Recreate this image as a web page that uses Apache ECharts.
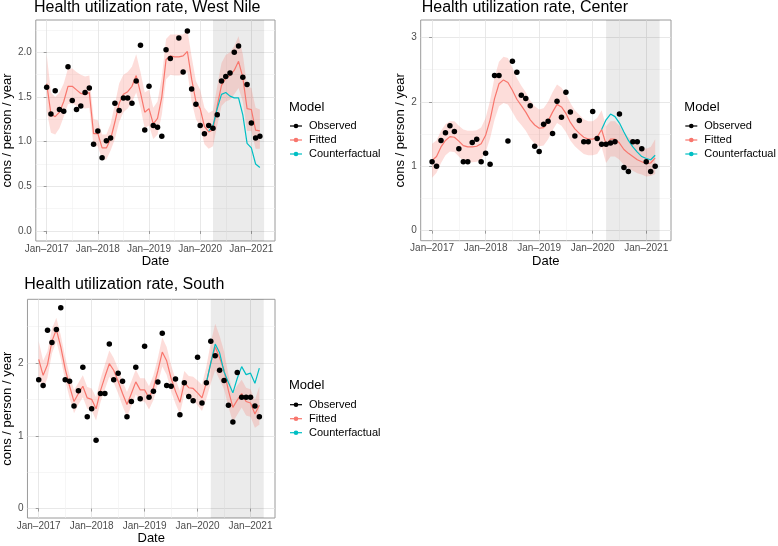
<!DOCTYPE html>
<html>
<head>
<meta charset="utf-8">
<script src="https://cdn.jsdelivr.net/npm/echarts@6/dist/echarts.min.js"></script>
<style>html,body{margin:0;padding:0;background:#fff}#chart{width:778px;height:546px}</style>
</head>
<body>
<div id="chart"></div>
<script>
// months since Jan 2017
var months = [0,1,2,3,4,5,6,7,8,9,10,11,12,13,14,15,16,17,18,19,20,21,22,23,24,25,26,27,28,29,30,31,32,33,34,35,36,37,38,39,40,41,42,43,44,45,46,47,48,49,50];
var cfMonths = [38,39,40,41,42,43,44,45,46,47,48,49,50];
var xTickMonths = [0,12,24,36,48];
var xTickLabels = ['Jan–2017','Jan–2018','Jan–2019','Jan–2020','Jan–2021'];
var xMinorMonths = [6,18,30,42];
var shadeFrom = 39, shadeTo = 51;

// West Nile
var wnObs = [1.61,1.31,1.57,1.36,1.34,1.84,1.46,1.36,1.40,1.55,1.60,0.97,1.12,0.82,1.01,1.04,1.43,1.35,1.49,1.49,1.43,1.68,2.08,1.13,1.62,1.18,1.16,1.06,2.03,1.93,null,2.16,1.78,2.24,1.59,1.42,1.18,1.09,1.18,1.15,1.30,1.68,1.73,1.77,2.00,2.07,1.72,1.64,1.21,1.04,1.06];
var wnFit = [1.65,1.31,1.28,1.33,1.45,1.62,1.62,1.58,1.54,1.53,1.55,1.09,1.09,0.93,0.93,1.03,1.22,1.43,1.53,1.56,1.62,1.74,1.55,1.33,1.37,1.20,1.26,1.50,1.92,1.96,1.95,1.95,1.96,2.01,1.70,1.45,1.37,1.17,1.11,1.13,1.40,1.63,1.71,1.74,1.80,1.90,1.72,1.37,1.36,1.13,1.12];
var wnLow = [1.35,1.10,1.08,1.15,1.28,1.42,1.43,1.40,1.38,1.37,1.38,0.95,0.95,0.80,0.80,0.90,1.03,1.22,1.33,1.37,1.44,1.55,1.38,1.15,1.18,1.03,1.08,1.30,1.70,1.75,1.74,1.74,1.75,1.78,1.45,1.25,1.17,0.97,0.92,0.95,1.18,1.40,1.45,1.47,1.53,1.60,1.45,1.12,1.12,0.92,0.92];
var wnUp = [1.98,1.55,1.50,1.55,1.65,1.82,1.82,1.78,1.75,1.73,1.74,1.25,1.24,1.08,1.08,1.20,1.42,1.65,1.75,1.78,1.84,1.98,1.78,1.55,1.58,1.38,1.45,1.72,2.15,2.20,2.20,2.20,2.20,2.25,1.95,1.68,1.58,1.38,1.32,1.35,1.62,1.88,1.97,2.00,2.07,2.18,1.98,1.62,1.60,1.38,1.36];
var wnCf = [1.12,1.18,1.37,1.53,1.55,1.51,1.49,1.49,1.30,0.98,0.93,0.75,0.71];

// Center
var cObs = [1.07,1.00,1.40,1.52,1.63,1.54,1.27,1.07,1.07,1.37,1.42,1.07,1.20,1.03,2.41,2.41,null,1.39,2.63,2.46,2.10,2.05,1.94,1.31,1.23,1.65,1.70,1.51,2.01,1.76,2.15,1.84,1.47,1.71,1.38,1.38,1.85,1.43,1.34,1.34,1.36,1.38,1.81,0.98,0.92,1.38,1.38,1.27,1.07,0.92,1.00];
var cFit = [1.09,1.15,1.30,1.40,1.46,1.45,1.39,1.32,1.30,1.30,1.31,1.35,1.48,1.72,2.05,2.28,2.34,2.30,2.18,2.04,1.94,1.84,1.72,1.64,1.59,1.60,1.70,1.84,1.96,1.92,1.82,1.68,1.58,1.51,1.45,1.42,1.42,1.45,1.57,1.34,1.42,1.42,1.36,1.26,1.20,1.15,1.10,1.07,1.04,1.05,1.13];
var cLow = [0.82,0.90,1.05,1.17,1.23,1.22,1.15,1.08,1.06,1.06,1.07,1.10,1.22,1.43,1.72,1.93,1.98,1.96,1.84,1.72,1.64,1.55,1.43,1.35,1.31,1.32,1.42,1.56,1.67,1.63,1.53,1.40,1.31,1.25,1.19,1.17,1.17,1.19,1.30,1.05,1.15,1.15,1.10,1.02,0.97,0.93,0.89,0.87,0.84,0.85,0.88];
var cUp = [1.35,1.40,1.55,1.65,1.70,1.70,1.63,1.57,1.55,1.55,1.56,1.60,1.75,2.02,2.38,2.62,2.70,2.68,2.53,2.37,2.25,2.15,2.02,1.93,1.88,1.90,2.00,2.15,2.27,2.22,2.12,1.98,1.87,1.80,1.73,1.70,1.70,1.75,1.87,1.62,1.70,1.70,1.63,1.52,1.45,1.40,1.35,1.30,1.27,1.30,1.42];
var cCf = [1.57,1.72,1.81,1.77,1.67,1.53,1.40,1.30,1.22,1.15,1.12,1.10,1.17];

// South
var sObs = [1.77,1.69,2.45,2.28,2.46,2.76,1.77,1.75,1.41,1.62,1.94,1.26,1.37,0.94,1.58,1.58,2.26,1.77,1.86,1.75,1.26,1.47,1.94,1.51,2.23,1.53,1.61,1.74,2.41,1.69,1.68,1.78,1.29,1.73,1.54,1.48,2.08,1.45,1.73,2.30,2.10,1.90,1.76,1.42,1.19,1.87,1.53,1.53,1.53,1.41,1.26];
var sFit = [2.05,1.83,1.98,2.30,2.46,2.22,1.92,1.68,1.47,1.58,1.68,1.52,1.50,1.37,1.62,1.81,1.99,1.90,1.75,1.58,1.43,1.58,1.74,1.63,1.63,1.52,1.66,1.89,2.15,2.03,1.79,1.61,1.46,1.73,1.66,1.65,1.59,1.52,1.73,2.00,2.22,2.07,1.90,1.62,1.39,1.49,1.58,1.47,1.45,1.30,1.42];
var sLow = [1.80,1.63,1.80,2.13,2.30,2.06,1.76,1.52,1.31,1.43,1.53,1.37,1.35,1.21,1.46,1.64,1.81,1.73,1.58,1.41,1.26,1.41,1.57,1.47,1.47,1.36,1.49,1.71,1.95,1.84,1.61,1.44,1.30,1.57,1.50,1.49,1.42,1.34,1.51,1.72,1.90,1.77,1.64,1.40,1.19,1.29,1.39,1.28,1.26,1.11,1.15];
var sUp = [2.30,2.03,2.16,2.47,2.62,2.38,2.08,1.84,1.63,1.73,1.83,1.67,1.65,1.53,1.78,1.98,2.17,2.07,1.92,1.75,1.60,1.75,1.91,1.79,1.79,1.68,1.83,2.07,2.35,2.22,1.97,1.78,1.62,1.89,1.82,1.81,1.76,1.70,1.95,2.28,2.54,2.37,2.16,1.84,1.59,1.69,1.77,1.66,1.64,1.49,1.68];
var sCf = [1.73,2.00,2.26,2.14,1.88,1.73,1.59,1.79,1.95,1.84,1.86,1.72,1.93];

var wnYTicks = [0,0.5,1,1.5,2], wnYLabels = ['0.0','0.5','1.0','1.5','2.0'], wnYMinor = [0.25,0.75,1.25,1.75,2.25];
var cYTicks = [0,1,2,3], cYLabels = ['0','1','2','3'], cYMinor = [0.5,1.5,2.5];
var sYTicks = [0,1,2], sYLabels = ['0','1','2'], sYMinor = [0.5,1.5,2.5];

var legendNames = ['Observed','Fitted','Counterfactual'];
var colors = {obs:'#000000', fit:'#F8766D', cf:'#00BFC4'};
var font = "'Liberation Sans', Arial, Helvetica, sans-serif";

var panels = [
  {title:'Health utilization rate, West Nile', tl:34, tt:0, left:33.3, top:20, width:241.7, height:221, ymin:-0.1125, ymax:2.3625,
   yTicks:wnYTicks, yLabels:wnYLabels, yMinor:wnYMinor, yGap:10, obs:wnObs, fit:wnFit, low:wnLow, up:wnUp, cf:wnCf, lx:289, ly:107},
  {title:'Health utilization rate, Center', tl:421.7, tt:0, left:420.7, top:20, width:250.3, height:220.7, ymin:-0.156, ymax:3.27,
   yTicks:cYTicks, yLabels:cYLabels, yMinor:cYMinor, yGap:10, obs:cObs, fit:cFit, low:cLow, up:cUp, cf:cCf, lx:684.3, ly:107},
  {title:'Health utilization rate, South', tl:24.3, tt:277, left:24.3, top:299.3, width:250.7, height:220, ymin:-0.13, ymax:2.875,
   yTicks:sYTicks, yLabels:sYLabels, yMinor:sYMinor, yGap:5, obs:sObs, fit:sFit, low:sLow, up:sUp, cf:sCf, lx:289, ly:385.7}
];

var grids = [], xAxes = [], yAxes = [], series = [], titles = [], graphics = [];

panels.forEach(function(p, i){
  grids.push({left:p.left, top:p.top, width:p.width, height:p.height, show:true,
    borderColor:'#9a9a9a', borderWidth:1, backgroundColor:'#fff'});
  titles.push({text:p.title, left:p.tl, top:p.tt, padding:0,
    textStyle:{fontSize:16, fontWeight:'normal', color:'#000', fontFamily:font}});

  xAxes.push({gridIndex:i, type:'value', min:-2.55, max:53.55,
    name:'Date', nameLocation:'middle', nameGap:14,
    nameTextStyle:{fontSize:13, color:'#000', fontFamily:font},
    axisLine:{show:false},
    axisTick:{show:true, customValues:xTickMonths, length:3, lineStyle:{color:'#9a9a9a'}},
    axisLabel:{customValues:xTickMonths, margin:3, fontSize:10, color:'#4d4d4d', fontFamily:font,
      formatter:function(v){ return xTickLabels[xTickMonths.indexOf(v)]; }},
    splitLine:{show:true, lineStyle:{color:'#e2e2e2', width:0.8}}});
  xAxes.push({gridIndex:i, type:'value', min:-2.55, max:53.55, position:'top',
    axisLine:{show:false},
    axisTick:{show:false, customValues:xMinorMonths},
    axisLabel:{show:false, customValues:xMinorMonths},
    splitLine:{show:true, lineStyle:{color:'#f0f0f0', width:0.6}}});

  yAxes.push({gridIndex:i, type:'value', min:p.ymin, max:p.ymax,
    name:'cons / person / year', nameLocation:'middle', nameRotate:90, nameGap:p.yGap,
    nameTextStyle:{fontSize:13, color:'#000', fontFamily:font},
    axisLine:{show:false},
    axisTick:{show:true, customValues:p.yTicks, length:3, lineStyle:{color:'#9a9a9a'}},
    axisLabel:{customValues:p.yTicks, margin:4, fontSize:10, color:'#4d4d4d', fontFamily:font,
      formatter:function(v){ return p.yLabels[p.yTicks.indexOf(v)]; }},
    splitLine:{show:true, lineStyle:{color:'#e2e2e2', width:0.8}}});
  yAxes.push({gridIndex:i, type:'value', min:p.ymin, max:p.ymax, position:'right',
    axisLine:{show:false},
    axisTick:{show:false, customValues:p.yMinor},
    axisLabel:{show:false, customValues:p.yMinor},
    splitLine:{show:true, lineStyle:{color:'#f0f0f0', width:0.6}}});

  var xi = 2 * i, yi = 2 * i;
  var ribbonData = months.map(function(m, k){ return [m, p.low[k], p.up[k]]; });
  var fitPairs = months.map(function(m, k){ return [m, p.fit[k]]; });
  var obsPairs = [];
  months.forEach(function(m, k){ if (p.obs[k] != null) obsPairs.push([m, p.obs[k]]); });
  var cfPairs = cfMonths.map(function(m, k){ return [m, p.cf[k]]; });

  // shaded period + confidence ribbon (polygon through the axis scales)
  series.push({type:'custom', xAxisIndex:xi, yAxisIndex:yi, data:ribbonData, silent:true, z:1,
    encode:{x:0, y:[1,2]},
    markArea:{silent:true, itemStyle:{color:'rgba(0,0,0,0.08)'},
      data:[[{xAxis:shadeFrom},{xAxis:shadeTo}]]},
    renderItem:function(params, api){
      if (params.dataIndex !== 0) return;
      var pts = [];
      for (var k = 0; k < ribbonData.length; k++) pts.push(api.coord([ribbonData[k][0], ribbonData[k][2]]));
      for (var j = ribbonData.length - 1; j >= 0; j--) pts.push(api.coord([ribbonData[j][0], ribbonData[j][1]]));
      return {type:'polygon', shape:{points:pts}, style:{fill:'rgba(248,118,109,0.25)'}};
    }});
  series.push({name:'Fitted', type:'line', xAxisIndex:xi, yAxisIndex:yi, data:fitPairs,
    symbol:'none', lineStyle:{color:colors.fit, width:1.2}, z:3});
  series.push({name:'Counterfactual', type:'line', xAxisIndex:xi, yAxisIndex:yi, data:cfPairs,
    symbol:'none', lineStyle:{color:colors.cf, width:1.2}, z:4});
  series.push({name:'Observed', type:'scatter', xAxisIndex:xi, yAxisIndex:yi, data:obsPairs,
    symbolSize:5.5, itemStyle:{color:colors.obs, opacity:1}, z:5});

  // legend drawn by hand, ggplot style
  graphics.push({type:'text', x:p.lx, y:p.ly,
    style:{text:'Model', fontSize:13, fontFamily:font, fill:'#000', verticalAlign:'middle', textVerticalAlign:'middle'}});
  var keyCols = [colors.obs, colors.fit, colors.cf];
  legendNames.forEach(function(n, k){
    var yy = p.ly + 19 + k * 14;
    graphics.push({type:'line', shape:{x1:p.lx + 1, y1:yy, x2:p.lx + 13, y2:yy},
      style:{stroke:keyCols[k], lineWidth:1.2}});
    graphics.push({type:'circle', shape:{cx:p.lx + 7, cy:yy, r:2.3}, style:{fill:keyCols[k]}});
    graphics.push({type:'text', x:p.lx + 20, y:yy,
      style:{text:n, fontSize:11, fontFamily:font, fill:'#000', verticalAlign:'middle', textVerticalAlign:'middle'}});
  });
});

var chart = echarts.init(document.getElementById('chart'));
chart.setOption({
  animation:false,
  backgroundColor:'#fff',
  title:titles,
  grid:grids,
  xAxis:xAxes,
  yAxis:yAxes,
  series:series,
  graphic:{elements:graphics}
});
</script>
</body>
</html>
